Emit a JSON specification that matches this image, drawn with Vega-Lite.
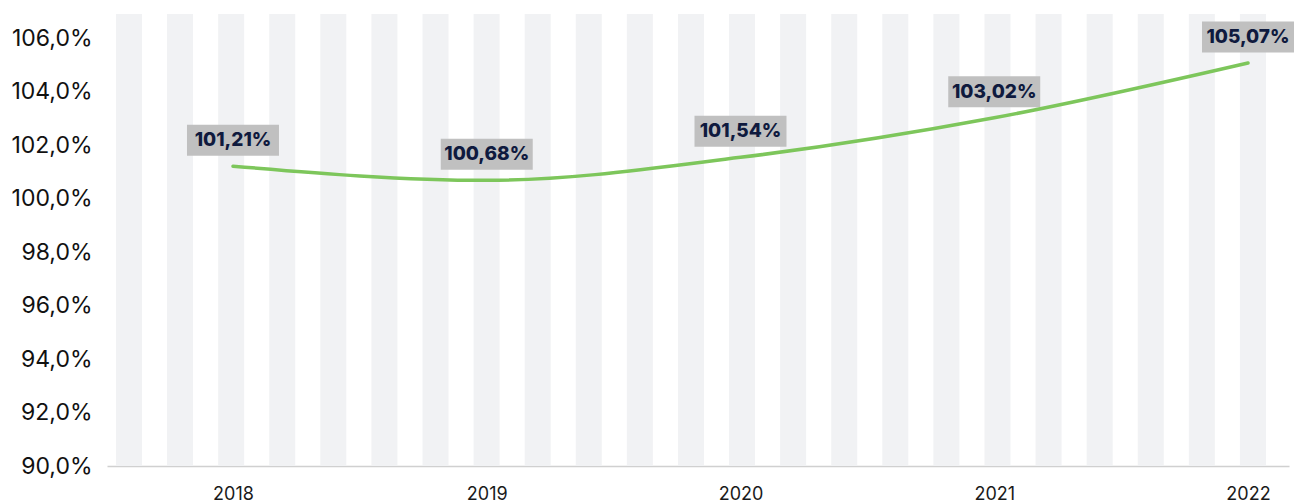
{
  "$schema": "https://vega.github.io/schema/vega-lite/v6.json",
  "width": 1182,
  "height": 452,
  "autosize": "none",
  "padding": {"left": 107, "top": 14, "right": 14, "bottom": 36},
  "background": "white",
  "config": {
    "view": {"stroke": null},
    "locale": {
      "number": {"decimal": ",", "thousands": ".", "grouping": [3], "currency": ["", " €"]}
    },
    "font": "Inter"
  },
  "datasets": {
    "stripes": [
      {"stripe": 0}, {"stripe": 1}, {"stripe": 2}, {"stripe": 3}, {"stripe": 4},
      {"stripe": 5}, {"stripe": 6}, {"stripe": 7}, {"stripe": 8}, {"stripe": 9},
      {"stripe": 10}, {"stripe": 11}, {"stripe": 12}, {"stripe": 13}, {"stripe": 14},
      {"stripe": 15}, {"stripe": 16}, {"stripe": 17}, {"stripe": 18}, {"stripe": 19},
      {"stripe": 20}, {"stripe": 21}, {"stripe": 22}
    ],
    "series": [
      {"year": 2018, "value": 1.0121},
      {"year": 2019, "value": 1.0068},
      {"year": 2020, "value": 1.0154},
      {"year": 2021, "value": 1.0302},
      {"year": 2022, "value": 1.0507}
    ]
  },
  "layer": [
    {
      "data": {"name": "stripes"},
      "mark": {"type": "rect", "color": "#f1f2f4"},
      "encoding": {
        "x": {
          "field": "stripe",
          "type": "ordinal",
          "axis": null,
          "scale": {"paddingInner": 0.491, "paddingOuter": 0.3135, "align": 0.28}
        }
      }
    },
    {
      "data": {"name": "series"},
      "encoding": {
        "x": {
          "field": "year",
          "type": "quantitative",
          "scale": {"domain": [2017.5035, 2022.1616], "nice": false, "zero": false},
          "axis": {
            "values": [2018, 2019, 2020, 2021, 2022],
            "format": "d",
            "title": null,
            "grid": false,
            "ticks": false,
            "tickSize": 0,
            "domainColor": "#d0d0d0",
            "domainWidth": 1.5,
            "labelFont": "Inter",
            "labelFontSize": 18,
            "labelColor": "#1a1a1a",
            "labelPadding": 19,
            "labelBaseline": "top",
            "labelFlush": false
          }
        },
        "y": {
          "field": "value",
          "type": "quantitative",
          "scale": {"domain": [0.9, 1.069], "nice": false, "zero": false},
          "axis": {
            "values": [0.9, 0.92, 0.94, 0.96, 0.98, 1.0, 1.02, 1.04, 1.06],
            "format": ".1%",
            "title": null,
            "grid": false,
            "ticks": false,
            "tickSize": 0,
            "domain": false,
            "labelFont": "Inter",
            "labelFontSize": 23,
            "labelColor": "#111111",
            "labelPadding": 15
          }
        }
      },
      "layer": [
        {
          "mark": {
            "type": "point",
            "shape": "M-1,-0.337H1V0.337H-1Z",
            "size": 8464,
            "filled": true,
            "opacity": 1,
            "color": "#c0c0c0",
            "strokeWidth": 0,
            "yOffset": -26
          }
        },
        {
          "mark": {
            "type": "line",
            "interpolate": "monotone",
            "color": "#7dc65b",
            "strokeWidth": 3.5,
            "strokeCap": "round"
          }
        },
        {
          "mark": {
            "type": "text",
            "font": "Inter",
            "fontSize": 19,
            "fontWeight": 800,
            "color": "#0f1a3e",
            "dy": -26,
            "baseline": "middle",
            "align": "center"
          },
          "encoding": {
            "text": {"field": "value", "type": "quantitative", "format": ".2%"}
          }
        }
      ]
    }
  ],
  "resolve": {"scale": {"x": "independent"}}
}
